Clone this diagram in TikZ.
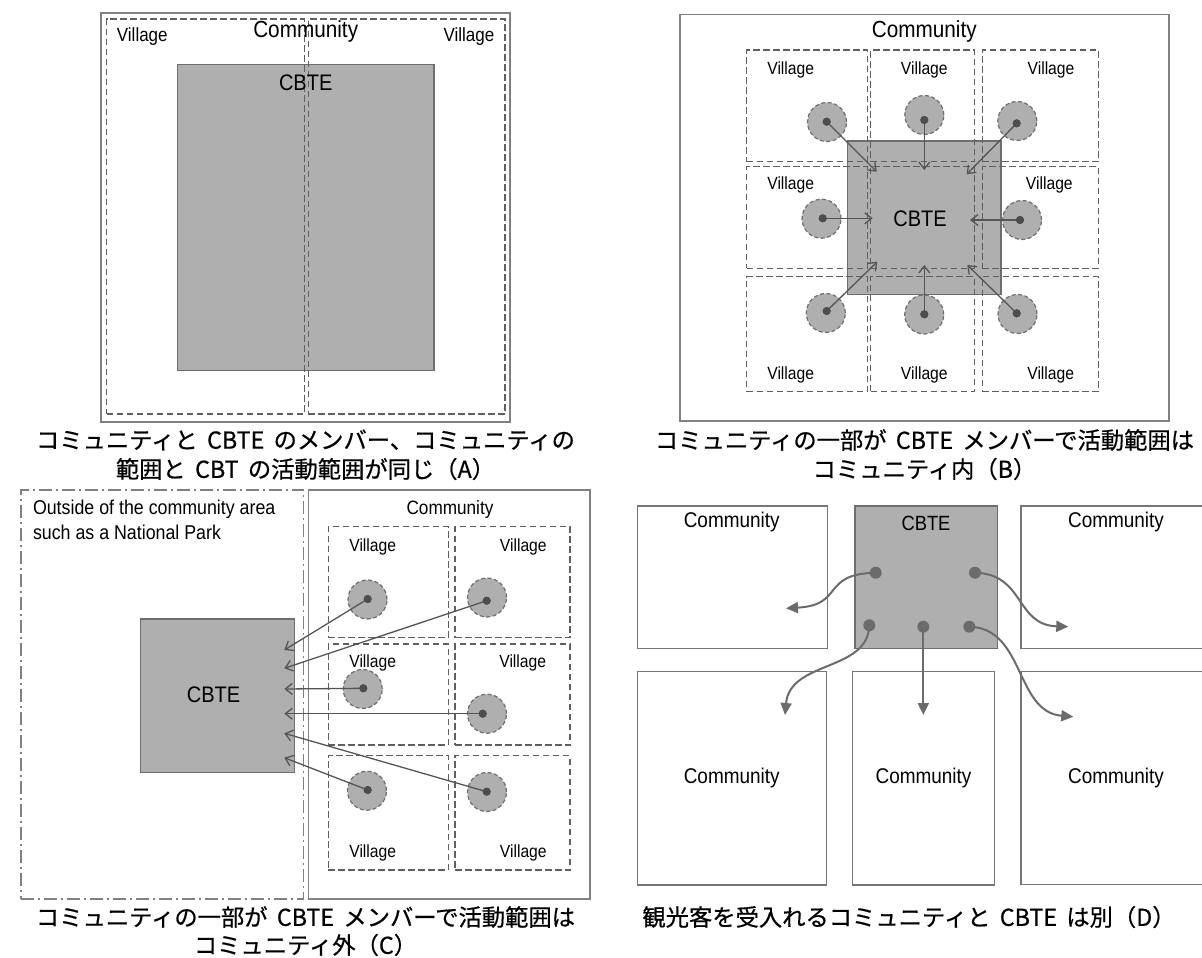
\documentclass[tikz,border=0pt]{standalone}
\usepackage{fontspec}
\setmainfont[FakeStretch=0.89]{Liberation Sans}
\newfontfamily\jpfont[FakeBold=0.6]{Noto Sans CJK JP}
\usetikzlibrary{arrows.meta,fit}
\definecolor{cbtefill}{HTML}{AFAFAF}
\definecolor{cbteline}{HTML}{6E6E6E}
\definecolor{framec}{HTML}{808080}
\definecolor{dashc}{HTML}{5F5F5F}
\definecolor{arrc}{HTML}{555555}
\definecolor{dotc}{HTML}{4D4D4D}
\definecolor{darrc}{HTML}{6B6B6B}
\definecolor{dframe}{HTML}{767676}
\begin{document}
\begin{tikzpicture}[x=1pt,y=-1pt,
  every node/.style={inner sep=0pt, outer sep=0pt},
  panel/.style={draw=framec, line width=1.5pt},
  dpanel/.style={draw=dframe, line width=1.5pt},
  village/.style={draw=dashc, line width=1.3pt, dash pattern=on 6.5pt off 3.5pt},
  outside/.style={draw=framec, line width=1.2pt, dash pattern=on 13pt off 4pt on 2pt off 4pt},
  cbte/.style={draw=cbteline, fill=cbtefill, line width=1.5pt},
  member/.style={circle, minimum size=39pt, fill=cbtefill, draw=cbteline, line width=1.2pt, dash pattern=on 4pt off 2.5pt},
  dotb/.style={circle, minimum size=8pt, fill=dotc},
  dotd/.style={circle, minimum size=12pt, fill=darrc},
  arr/.style={draw=arrc, line width=1.3pt, -{Straight Barb[length=7pt,width=11pt]}},
  darr/.style={draw=darrc, line width=2pt, -{Triangle[length=12pt,width=11pt]}},
  commAB/.style={font=\fontsize{23.3}{28}\selectfont},
  commC/.style={font=\fontsize{19.3}{23}\selectfont},
  commD/.style={font=\fontsize{21.3}{26}\selectfont},
  vilA/.style={font=\fontsize{19.1}{23}\selectfont},
  vilBC/.style={font=\fontsize{17.6}{21}\selectfont},
  cbteABC/.style={font=\fontsize{22.5}{27}\selectfont},
  cbteD/.style={font=\fontsize{20.6}{25}\selectfont},
  outtext/.style={font=\fontsize{20}{25}\selectfont, align=left, anchor=north west},
  caption/.style={font={\jpfont\fontsize{23.3}{28}\selectfont\spaceskip=0.4em\relax}}
]
\useasboundingbox (0,0) rectangle (1202,958);

% ---------------- Panel A ----------------
\node[panel, fit={(101,13)(510,422)}] (Aframe) {};
\node[cbte, fit={(177.3,64.3)(434,370.7)}] (Acbte) {};
\node[village, fit={(106.7,19)(304.3,414)}] (Av1) {};
\node[village, fit={(308.3,19)(505,414)}] (Av2) {};
\node[commAB] (Acomm) at (305.7,31.7) {Community};
\node[vilA] (Av1l) at (142.3,37) {Village};
\node[vilA] (Av2l) at (469,37) {Village};
\node[cbteABC] (Acbtel) at (305.7,82.3) {CBTE};
\node[caption] (Acap1) at (305.5,440) {コミュニティと CBTE のメンバー、コミュニティの};
\node[caption] (Acap2) at (305.5,469) {範囲と CBT の活動範囲が同じ（A）};

% ---------------- Panel B ----------------
\node[panel, fit={(680,14.3)(1169,421)}] (Bframe) {};
\node[cbte, fit={(847.7,141)(1001,294.3)}] (Bcbte) {};
\node[village, fit={(746.7,50)(867.3,161.7)}] (B11) {};
\node[village, fit={(870.7,50)(974.3,161.7)}] (B12) {};
\node[village, fit={(982.3,50)(1098.3,161.7)}] (B13) {};
\node[village, fit={(746.7,166.7)(867.3,268.3)}] (B21) {};
\node[village, fit={(870.7,166.7)(974.3,268.3)}] (B22) {};
\node[village, fit={(982.3,166.7)(1098.3,268.3)}] (B23) {};
\node[village, fit={(746.7,276.7)(867.3,391.7)}] (B31) {};
\node[village, fit={(870.7,276.7)(974.3,391.7)}] (B32) {};
\node[village, fit={(982.3,276.7)(1098.3,391.7)}] (B33) {};
\node[commAB] (Bcomm) at (924.3,31.7) {Community};
\node[vilBC] (B11l) at (790.7,70) {Village};
\node[vilBC] (B12l) at (924.3,70) {Village};
\node[vilBC] (B13l) at (1051,70) {Village};
\node[vilBC] (B21l) at (790.7,185.3) {Village};
\node[vilBC] (B23l) at (1049.3,185.3) {Village};
\node[vilBC] (B31l) at (790.7,375) {Village};
\node[vilBC] (B32l) at (924.3,375) {Village};
\node[vilBC] (B33l) at (1050.7,375) {Village};
\node[cbteABC] (Bcbtel) at (920,218.3) {CBTE};
% members
\node[member] (Bm11) at (827,122) {};
\node[member] (Bm12) at (924.3,115) {};
\node[member] (Bm13) at (1017.3,121) {};
\node[member] (Bm21) at (821.5,218.7) {};
\node[member] (Bm23) at (1022,220) {};
\node[member] (Bm31) at (825.8,313) {};
\node[member] (Bm32) at (924.2,314.5) {};
\node[member] (Bm33) at (1017.5,314) {};
\node[dotb] (Bd11) at (826.7,121.7) {};
\node[dotb] (Bd12) at (924.3,120) {};
\node[dotb] (Bd13) at (1016.7,123.3) {};
\node[dotb] (Bd21) at (822.7,218.3) {};
\node[dotb] (Bd23) at (1020,220) {};
\node[dotb] (Bd31) at (826.7,311) {};
\node[dotb] (Bd32) at (924.3,314.3) {};
\node[dotb] (Bd33) at (1016.7,313.3) {};
\coordinate (Bt11) at (876.7,171.7);
\coordinate (Bt12) at (924.3,170);
\coordinate (Bt13) at (966.7,174.3);
\coordinate (Bt21) at (872.7,218.3);
\coordinate (Bt23) at (970,220);
\coordinate (Bt31) at (877.3,261.7);
\coordinate (Bt32) at (924.3,265);
\coordinate (Bt33) at (967.3,265);
\foreach \n in {11,12,13,21,23,31,32,33}{\draw[arr] (Bd\n.center) -- (Bt\n);}
\foreach \n in {11,12,13,21,23,31,32,33}{\node[dotb] at (Bd\n) {};}
\node[caption] (Bcap1) at (924.5,440) {コミュニティの一部が CBTE メンバーで活動範囲は};
\node[caption] (Bcap2) at (924.5,469) {コミュニティ内（B）};

% ---------------- Panel C ----------------
\node[outside, fit={(21,490)(303.3,899)}] (Cout) {};
\node[panel, fit={(308.3,490)(590,899)}] (Cframe) {};
\node[outtext] (Couttext) at (33,500) {Outside of the community area\\such as a National Park};
\node[cbte, fit={(140.3,619)(294.3,772.3)}] (Ccbte) {};
\node[cbteABC] (Ccbtel) at (213.5,695) {CBTE};
\node[commC] (Ccomm) at (450,510) {Community};
\node[village, fit={(328.3,526.7)(448.3,637.7)}] (C11) {};
\node[village, fit={(455,526.7)(570,637.7)}] (C12) {};
\node[village, fit={(328.3,644)(448.3,745)}] (C21) {};
\node[village, fit={(455,644)(570,745)}] (C22) {};
\node[village, fit={(328.3,755.7)(448.3,870)}] (C31) {};
\node[village, fit={(455,755.7)(570,870)}] (C32) {};
\node[vilBC] (C11l) at (372.7,546.7) {Village};
\node[vilBC] (C12l) at (523.3,546.7) {Village};
\node[vilBC] (C21l) at (372.7,663.3) {Village};
\node[vilBC] (C22l) at (522.7,663.3) {Village};
\node[vilBC] (C31l) at (372.7,853.3) {Village};
\node[vilBC] (C32l) at (523.3,853.3) {Village};
\node[member] (Cm11) at (367.5,599.5) {};
\node[member] (Cm12) at (487,597.5) {};
\node[member] (Cm21) at (362.7,689) {};
\node[member] (Cm22) at (487,713.7) {};
\node[member] (Cm31) at (367,790.7) {};
\node[member] (Cm32) at (487,792) {};
\node[dotb] (Cd11) at (367.7,599) {};
\node[dotb] (Cd12) at (486.7,600.7) {};
\node[dotb] (Cd21) at (363.3,688.3) {};
\node[dotb] (Cd22) at (482.7,713.7) {};
\node[dotb] (Cd31) at (367.7,790) {};
\node[dotb] (Cd32) at (486.7,791.7) {};
\coordinate (Ct11) at (284.3,650);
\coordinate (Ct12) at (284.3,668.3);
\coordinate (Ct21) at (284.3,689);
\coordinate (Ct22) at (284.3,713.7);
\coordinate (Ct32) at (284.3,733.3);
\coordinate (Ct31) at (284.3,757.7);
\foreach \n in {11,12,21,22,31,32}{\draw[arr] (Cd\n.center) -- (Ct\n);}
\foreach \n in {11,12,21,22,31,32}{\node[dotb] at (Cd\n) {};}
\node[caption] (Ccap1) at (305.5,917) {コミュニティの一部が CBTE メンバーで活動範囲は};
\node[caption] (Ccap2) at (305.5,945) {コミュニティ外（C）};

% ---------------- Panel D ----------------
\node[dpanel, fit={(637.3,506)(827.7,648.3)}] (Dtl) {};
\node[cbte, fit={(855,506)(997.3,648.3)}] (Dcbte) {};
\node[dpanel, fit={(1021,506)(1215,648.3)}] (Dtr) {};
\node[dpanel, fit={(637.3,671.7)(826.7,885)}] (Dbl) {};
\node[dpanel, fit={(852.7,671.7)(994.3,885)}] (Dbm) {};
\node[dpanel, fit={(1021,671.3)(1215,884.3)}] (Dbr) {};
\node[commD] (Dtll) at (731.7,521.7) {Community};
\node[commD] (Dtrl) at (1116,521.7) {Community};
\node[commD] (Dbll) at (731.7,778.3) {Community};
\node[commD] (Dbml) at (923.5,778.3) {Community};
\node[commD] (Dbrl) at (1116,778.3) {Community};
\node[cbteD] (Dcbtel) at (926,523.3) {CBTE};
\node[dotd] (De1) at (875.7,572.7) {};
\node[dotd] (De2) at (975,572.7) {};
\node[dotd] (De3) at (869.3,625.3) {};
\node[dotd] (De4) at (923.3,626.7) {};
\node[dotd] (De5) at (969.3,626.7) {};
\coordinate (Dt1) at (786,608.3);
\coordinate (Dt2) at (1068.3,626.7);
\coordinate (Dt3) at (785,715);
\coordinate (Dt4) at (923.3,715);
\coordinate (Dt5) at (1073.3,716.7);
\draw[darr] (De1.center) .. controls (820,574) and (845,605) .. (Dt1);
\draw[darr] (De2.center) .. controls (1025,574) and (1015,625) .. (Dt2);
\draw[darr] (De3.center) .. controls (868,672) and (790,660) .. (Dt3);
\draw[darr] (De4.center) -- (Dt4);
\draw[darr] (De5.center) .. controls (1025,628) and (1015,712) .. (Dt5);
\node[caption] (Dcap) at (909,917) {観光客を受入れるコミュニティと CBTE は別（D）};
\end{tikzpicture}
\end{document}
